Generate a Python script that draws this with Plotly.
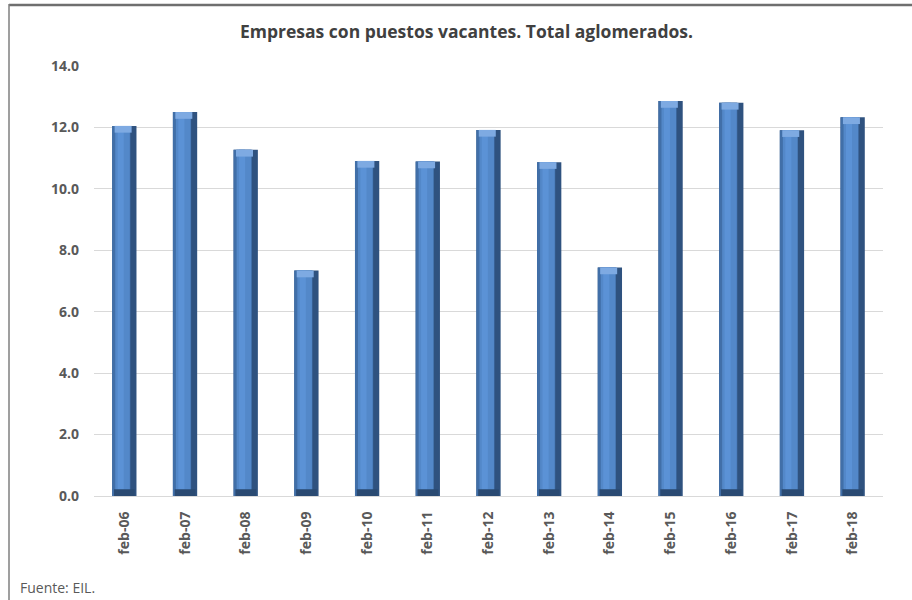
import plotly.graph_objects as go

categories = ["feb-06", "feb-07", "feb-08", "feb-09", "feb-10", "feb-11", "feb-12",
              "feb-13", "feb-14", "feb-15", "feb-16", "feb-17", "feb-18"]
values = [12.05, 12.5, 11.27, 7.34, 10.91, 10.89, 11.92, 10.87, 7.44, 12.86, 12.8, 11.91, 12.33]
y_ticks = [0, 2, 4, 6, 8, 10, 12, 14]
y_tick_labels = ["0.0", "2.0", "4.0", "6.0", "8.0", "10.0", "12.0", "14.0"]

title_text = "Empresas con puestos vacantes. Total aglomerados."
source_text = "Fuente: EIL."

FONT = "Open Sans"
W = 0.4
cap = 0.22

fig = go.Figure()
# dark body (right shading)
fig.add_trace(go.Bar(x=categories, y=values, width=W, marker=dict(color="#2f527f", line=dict(width=0)),
                     hoverinfo="skip", showlegend=False))
# left edge mid-tone
fig.add_trace(go.Bar(x=categories, y=values, width=W - 0.1, offset=-W / 2,
                     marker=dict(color="#416fa8", line=dict(width=0)), hoverinfo="skip", showlegend=False))
# lighter face
fig.add_trace(go.Bar(x=categories, y=values, width=W - 0.16, offset=-W / 2 + 0.05,
                     marker=dict(color="#5388c9", line=dict(width=0)), hoverinfo="skip", showlegend=False))
# highlight center
fig.add_trace(go.Bar(x=categories, y=values, width=0.1, offset=-W / 2 + 0.09,
                     marker=dict(color="#5b92d6", line=dict(width=0)), hoverinfo="skip", showlegend=False))
# top bevel
fig.add_trace(go.Bar(x=categories, y=[cap] * len(values), base=[v - cap for v in values],
                     width=W - 0.12, offset=-W / 2 + 0.04,
                     marker=dict(color="#7eaae2", line=dict(width=0)), hoverinfo="skip", showlegend=False))
# bottom bevel
fig.add_trace(go.Bar(x=categories, y=[cap] * len(values), base=[0] * len(values),
                     width=W - 0.06, offset=-W / 2 + 0.03,
                     marker=dict(color="#2a4a72", line=dict(width=0)), hoverinfo="skip", showlegend=False))

PW, PH = 789, 430
fig.update_layout(
    width=912, height=600,
    barmode="overlay",
    paper_bgcolor="white", plot_bgcolor="white",
    margin=dict(l=94, r=29, t=66, b=104),
    title=dict(text="<b>" + title_text + "</b>", x=466.5 / 912, xref="container", xanchor="center",
               y=1 - 32 / 600, yref="container", yanchor="middle",
               font=dict(family=FONT, size=17.5, color="#404040")),
    xaxis=dict(type="category", categoryorder="array", categoryarray=categories,
               tickangle=-90, showgrid=False, showline=True, linecolor="#d9d9d9", linewidth=1,
               tickfont=dict(family=FONT, size=14, color="#595959", weight="bold"),
               ticks="", ticklabelstandoff=9, range=[-0.5, len(categories) - 0.5]),
    yaxis=dict(range=[0, 14], tickvals=y_ticks, ticktext=y_tick_labels,
               showgrid=True, gridcolor="#d9d9d9", gridwidth=1, zeroline=False,
               tickfont=dict(family=FONT, size=14, color="#595959", weight="bold"),
               ticks="", ticklabelstandoff=14),
    shapes=[
        dict(type="line", xref="paper", yref="paper", x0=-85 / PW, x1=1 + 29 / PW,
             y0=1 + 61 / PH, y1=1 + 61 / PH, layer="above", line=dict(color="#6f6f6f", width=2.5)),
        dict(type="line", xref="paper", yref="paper", x0=-85 / PW, x1=-85 / PW,
             y0=1 + 62 / PH, y1=-104 / PH, line=dict(color="#7f7f7f", width=1.5)),
    ],
    annotations=[
        dict(text=source_text, xref="paper", yref="paper", x=-76 / PW, y=-91 / PH,
             xanchor="left", yanchor="middle", showarrow=False,
             font=dict(family=FONT, size=14, color="#595959")),
    ],
)

fig.write_html("out.html", config={"displayModeBar": False},
               post_script="document.body.style.margin='0';")
